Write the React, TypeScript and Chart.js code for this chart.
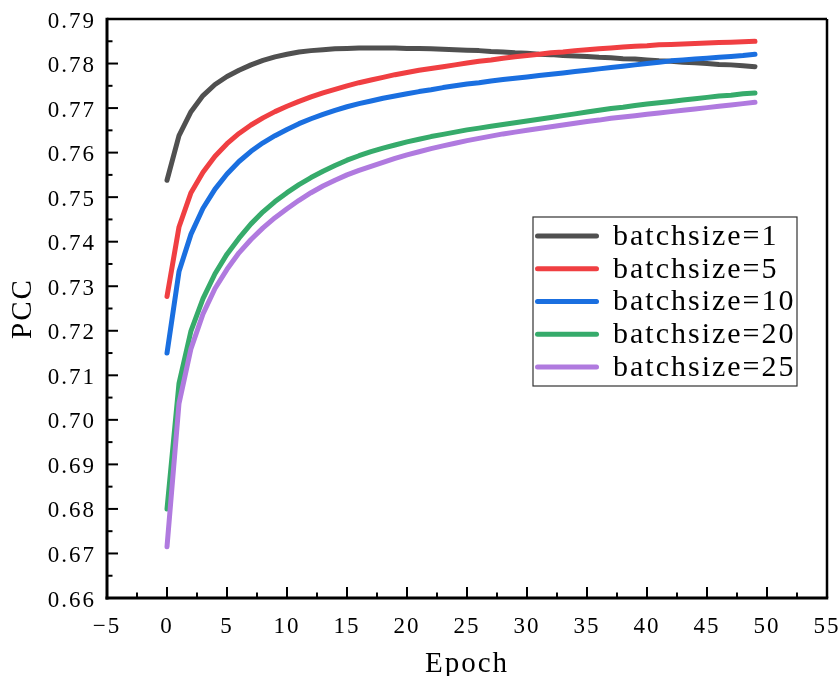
import React, { useEffect, useRef } from "react";
import { Chart, registerables } from "chart.js";

Chart.register(...registerables);

const EPOCHS = [
  0, 1, 2, 3, 4, 5, 6, 7, 8, 9, 10, 11, 12, 13, 14, 15, 16, 17, 18, 19, 20, 21, 22, 23, 24,
  25, 26, 27, 28, 29, 30, 31, 32, 33, 34, 35, 36, 37, 38, 39, 40, 41, 42, 43, 44, 45, 46, 47, 48, 49,
];

const BS1 = [
  0.7538, 0.7638, 0.7692, 0.7728, 0.7753, 0.7771, 0.7785, 0.7797, 0.7807, 0.7815,
  0.7821, 0.7826, 0.7829, 0.7831, 0.7833, 0.7834, 0.7835, 0.7835, 0.7835, 0.7835,
  0.7834, 0.7834, 0.7833, 0.7832, 0.7831, 0.783, 0.7829, 0.7827, 0.7826, 0.7824,
  0.7823, 0.7821, 0.782, 0.7818, 0.7817, 0.7816, 0.7814, 0.7813, 0.7811, 0.781,
  0.7808, 0.7806, 0.7805, 0.7803, 0.7802, 0.78, 0.7798, 0.7797, 0.7795, 0.7793,
];

const BS5 = [
  0.7277, 0.7433, 0.751, 0.7556, 0.7592, 0.762, 0.7643, 0.7662, 0.7678, 0.7692,
  0.7704, 0.7715, 0.7725, 0.7734, 0.7742, 0.775, 0.7757, 0.7763, 0.7769, 0.7775,
  0.778, 0.7785, 0.7789, 0.7793, 0.7797, 0.7801, 0.7805, 0.7808, 0.7812, 0.7815,
  0.7818, 0.7821, 0.7824, 0.7826, 0.7829, 0.7831, 0.7833, 0.7835, 0.7837, 0.7839,
  0.784, 0.7842, 0.7843, 0.7844, 0.7845, 0.7846, 0.7847, 0.7848, 0.7849, 0.785,
];

const BS10 = [
  0.715, 0.7333, 0.7417, 0.7475, 0.7518, 0.7552, 0.758, 0.7603, 0.7622, 0.7638,
  0.7652, 0.7665, 0.7676, 0.7686, 0.7695, 0.7703, 0.771, 0.7716, 0.7722, 0.7727,
  0.7732, 0.7737, 0.7741, 0.7746, 0.775, 0.7754, 0.7757, 0.7761, 0.7764, 0.7767,
  0.777, 0.7773, 0.7776, 0.7779, 0.7782, 0.7785, 0.7788, 0.7791, 0.7794, 0.7797,
  0.78, 0.7803, 0.7806, 0.7808, 0.781, 0.7812, 0.7814, 0.7816, 0.7818, 0.7821,
];

const BS20 = [
  0.68, 0.7082, 0.72, 0.7272, 0.7328, 0.7372, 0.7408, 0.744, 0.7467, 0.749,
  0.751, 0.7528, 0.7544, 0.7558, 0.7571, 0.7583, 0.7593, 0.7602, 0.761, 0.7617,
  0.7624, 0.763, 0.7636, 0.7641, 0.7646, 0.7651, 0.7655, 0.7659, 0.7663, 0.7667,
  0.7671, 0.7675, 0.7679, 0.7683, 0.7687, 0.7691, 0.7695, 0.7699, 0.7702, 0.7706,
  0.7709, 0.7712, 0.7715, 0.7718, 0.7721, 0.7724, 0.7727, 0.7729, 0.7732, 0.7734,
];

const BS25 = [
  0.6715, 0.7037, 0.716, 0.7238, 0.7295, 0.7338, 0.7375, 0.7405, 0.7431, 0.7454,
  0.7474, 0.7493, 0.751, 0.7525, 0.7538, 0.755, 0.756, 0.7569, 0.7578, 0.7587,
  0.7595, 0.7602, 0.7609, 0.7615, 0.7621, 0.7627, 0.7632, 0.7637, 0.7642, 0.7646,
  0.765, 0.7654, 0.7658, 0.7662, 0.7666, 0.767, 0.7673, 0.7677, 0.768, 0.7683,
  0.7686, 0.7689, 0.7692, 0.7695, 0.7698, 0.7701, 0.7704, 0.7707, 0.771, 0.7713,
];

const SERIES_LABELS = ["batchsize=1", "batchsize=5", "batchsize=10", "batchsize=20", "batchsize=25"];
const SERIES_VALUES = [BS1, BS5, BS10, BS20, BS25];
const SERIES_COLORS = ["#505050", "#F03F42", "#1A6FE0", "#36AB6B", "#B07ADF"];

const X_TITLE = "Epoch";
const Y_TITLE = "PCC";
const X_MIN = -5;
const X_MAX = 55;
const X_STEP = 5;
const Y_MIN = 0.66;
const Y_MAX = 0.79;
const Y_STEP = 0.01;

const FONT = '"Liberation Serif", "Times New Roman", serif';

const textSpacing = {
  id: "textSpacing",
  beforeDraw(chart: any) {
    try {
      chart.ctx.letterSpacing = "2px";
    } catch (e) {}
  },
};

const frameAndTicks = {
  id: "frameAndTicks",
  afterDraw(chart: any) {
    const { ctx, chartArea: a, scales } = chart;
    const xs = scales.x;
    const ys = scales.y;
    ctx.save();
    ctx.strokeStyle = "#000";
    ctx.lineCap = "butt";
    const seg = (x1: number, y1: number, x2: number, y2: number, w: number) => {
      ctx.lineWidth = w;
      ctx.beginPath();
      ctx.moveTo(x1, y1);
      ctx.lineTo(x2, y2);
      ctx.stroke();
    };
    const xt = xs.ticks.map((t: any) => t.value);
    xt.forEach((v: number, i: number) => {
      const p = xs.getPixelForValue(v);
      seg(p, a.bottom, p, a.bottom - 11, 2);
      if (i < xt.length - 1) {
        const m = xs.getPixelForValue((v + xt[i + 1]) / 2);
        seg(m, a.bottom, m, a.bottom - 5.5, 2);
      }
    });
    const yt = ys.ticks.map((t: any) => t.value);
    yt.forEach((v: number, i: number) => {
      const p = ys.getPixelForValue(v);
      seg(a.left, p, a.left + 11, p, 2);
      if (i < yt.length - 1) {
        const m = ys.getPixelForValue((v + yt[i + 1]) / 2);
        seg(a.left, m, a.left + 5.5, m, 2);
      }
    });
    seg(a.left, a.top, a.right, a.top, 2.5);
    seg(a.right, a.top, a.right, a.bottom, 2.5);
    seg(a.left, a.top - 1.25, a.left, a.bottom + 1.5, 3);
    seg(a.left - 1.5, a.bottom, a.right + 1.25, a.bottom, 3);
    ctx.restore();
  },
};

const boxLegend = {
  id: "boxLegend",
  afterDraw(chart: any) {
    const { ctx, chartArea: a } = chart;
    const ds = chart.data.datasets;
    ctx.save();
    ctx.font = `30px ${FONT}`;
    try {
      ctx.letterSpacing = "2px";
    } catch (e) {}
    const lineLen = 64;
    const gap = 14;
    const padL = 2;
    const rowH = 32.75;
    const right = a.right - 30;
    const left = a.left + 426;
    const w = right - left;
    const h = 169;
    const top = a.top + 198;
    ctx.fillStyle = "#fff";
    ctx.fillRect(left, top, w, h);
    ctx.strokeStyle = "#333";
    ctx.lineWidth = 1.2;
    ctx.strokeRect(left, top, w, h);
    ds.forEach((d: any, i: number) => {
      const y = top + 19 + i * rowH;
      ctx.strokeStyle = d.borderColor;
      ctx.lineWidth = 5;
      ctx.lineCap = "round";
      ctx.beginPath();
      ctx.moveTo(left + padL + 2.5, y);
      ctx.lineTo(left + padL + lineLen - 2.5, y);
      ctx.stroke();
      ctx.fillStyle = "#000";
      ctx.textAlign = "left";
      ctx.textBaseline = "middle";
      ctx.fillText(d.label, left + padL + lineLen + gap, y + 1);
    });
    ctx.restore();
  },
};

export default function App() {
  const ref = useRef<HTMLCanvasElement>(null);
  useEffect(() => {
    document.body.style.margin = "0";
    const datasets = SERIES_LABELS.map((label, i) => ({
      label,
      data: EPOCHS.map((x, j) => ({ x, y: SERIES_VALUES[i][j] })),
      borderColor: SERIES_COLORS[i],
      backgroundColor: SERIES_COLORS[i],
      borderWidth: 5,
      pointRadius: 0,
      tension: 0,
      borderCapStyle: "round" as const,
      borderJoinStyle: "round" as const,
      fill: false,
      order: SERIES_LABELS.length - i,
    }));
    const chart = new Chart(ref.current!, {
      type: "line",
      data: { datasets },
      options: {
        animation: false,
        responsive: true,
        maintainAspectRatio: false,
        layout: { padding: { left: 0, right: 0, top: 19, bottom: 0 } },
        plugins: { legend: { display: false }, tooltip: { enabled: false } },
        scales: {
          x: {
            type: "linear",
            min: X_MIN,
            max: X_MAX,
            grid: { display: false, drawTicks: false },
            border: { display: false },
            ticks: {
              stepSize: X_STEP,
              color: "#000",
              padding: 15,
              maxRotation: 0,
              font: { family: FONT, size: 23 },
              callback: (v: any) => (Number(v) < 0 ? "\u2212" + Math.abs(Number(v)) : String(v)),
            },
            title: {
              display: true,
              text: X_TITLE,
              color: "#000",
              font: { family: FONT, size: 29, lineHeight: 1 },
              padding: { top: 0, bottom: -2.5 },
            },
            afterFit: (s: any) => {
              s.height = 78;
              s.paddingLeft = 0;
              s.paddingRight = 13;
            },
          },
          y: {
            type: "linear",
            min: Y_MIN,
            max: Y_MAX,
            grid: { display: false, drawTicks: false },
            border: { display: false },
            ticks: {
              stepSize: Y_STEP,
              color: "#000",
              padding: 11,
              labelOffset: 2.5,
              font: { family: FONT, size: 23 },
              callback: (v: any) => Number(v).toFixed(2),
            },
            title: {
              display: true,
              text: Y_TITLE,
              color: "#000",
              font: { family: FONT, size: 29, lineHeight: 1 },
              padding: { top: 8.5, bottom: 0 },
            },
            afterFit: (s: any) => {
              s.width = 107;
              s.paddingTop = 0;
              s.paddingBottom = 0;
            },
          },
        },
      },
      plugins: [textSpacing, frameAndTicks, boxLegend],
    });
    return () => chart.destroy();
  }, []);
  return (
    <div style={{ width: 840, height: 676, position: "relative" }}>
      <canvas ref={ref} />
    </div>
  );
}
